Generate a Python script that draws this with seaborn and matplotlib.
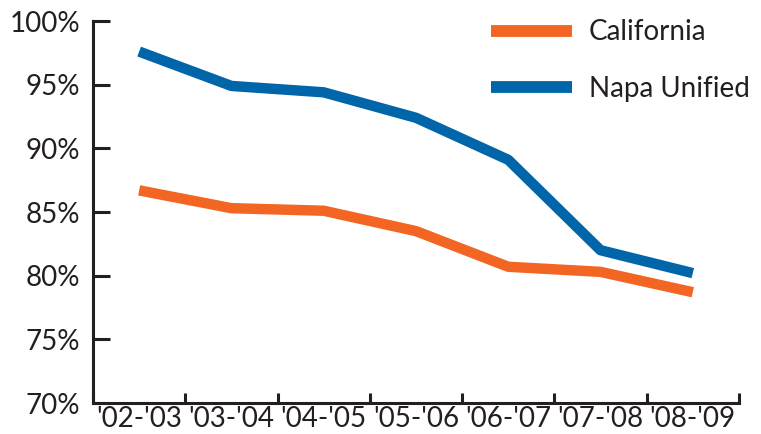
import numpy as np
import pandas as pd
import seaborn as sns
import matplotlib.pyplot as plt
from matplotlib.ticker import FixedLocator, FuncFormatter

years = ["'02-'03", "'03-'04", "'04-'05", "'05-'06", "'06-'07", "'07-'08", "'08-'09"]
california = [86.7, 85.3, 85.1, 83.5, 80.7, 80.3, 78.7]
napa_unified = [97.6, 94.9, 94.4, 92.4, 89.1, 82.0, 80.2]

colors = {"California": "#F26522", "Napa Unified": "#0066A9"}

sns.set_style("white")
plt.rcParams["font.family"] = ["Lato", "DejaVu Sans"]

df = pd.DataFrame({
    "pos": list(range(len(years))) * 2,
    "rate": california + napa_unified,
    "series": ["California"] * len(years) + ["Napa Unified"] * len(years),
})

fig = plt.figure(figsize=(7.61, 4.34), dpi=100)
ax = fig.add_axes([0.1222, 0.0714, 0.8488, 0.8802])

sns.lineplot(data=df, x="pos", y="rate", hue="series", palette=colors,
             linewidth=7.5, ax=ax, legend=False)
for line in ax.lines:
    line.set_solid_capstyle("butt")

ax.set_xlim(-0.5, len(years) - 0.5)
ax.set_ylim(70, 100)
ax.set_xlabel("")
ax.set_ylabel("")

ax.set_yticks(np.arange(70, 101, 5))
ax.yaxis.set_major_formatter(FuncFormatter(lambda v, p: f"{v:.0f}%"))
ax.set_xticks(range(len(years)))
ax.set_xticklabels(years)
ax.xaxis.set_minor_locator(FixedLocator(np.arange(-0.5, len(years), 1.0)))

ax.tick_params(axis="y", left=True, direction="in", length=12, width=2.2,
               color="#231F20", labelsize=20, pad=9, labelcolor="#231F20")
ax.tick_params(axis="x", which="major", bottom=True, length=0, labelsize=20,
               pad=2, labelcolor="#231F20")
ax.tick_params(axis="x", which="minor", bottom=True, direction="in", length=7,
               width=2.2, color="#231F20")

sns.despine(ax=ax)
for s in ["left", "bottom"]:
    ax.spines[s].set_linewidth(2.2)
    ax.spines[s].set_color("#231F20")

handles = [plt.Line2D([], [], color=colors[k], linewidth=8.5, solid_capstyle="butt")
           for k in colors]
leg = ax.legend(handles, list(colors.keys()), loc="upper right", frameon=False,
                fontsize=20, handlelength=2.9, labelspacing=1.1, handletextpad=0.6,
                bbox_to_anchor=(1.055, 1.07), labelcolor="#231F20")

fig.savefig("out.png", dpi=100)
